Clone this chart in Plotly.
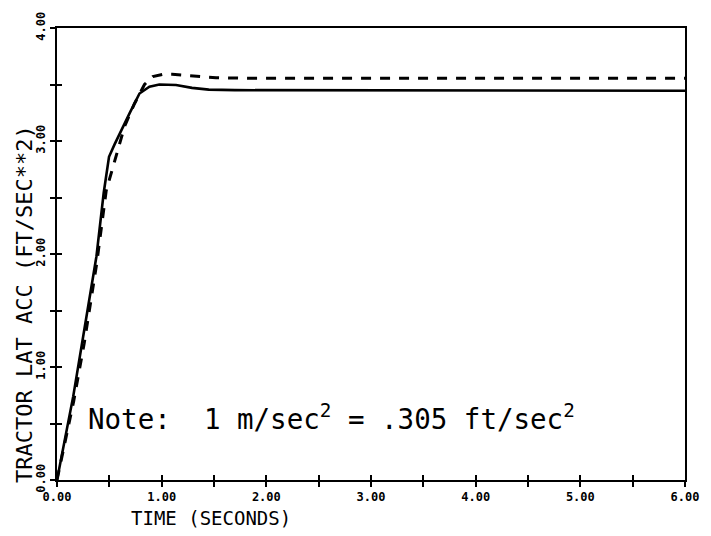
import plotly.graph_objects as go

# ---- data ----
time_solid = [0, 0.155, 0.25, 0.377, 0.446, 0.478, 0.497, 0.55, 0.614, 0.693, 0.788,
              0.883, 0.978, 1.07, 1.137, 1.29, 1.45, 1.7, 2.0, 3.0, 4.0, 5.0, 6.0]
acc_solid = [0, 0.74, 1.27, 1.98, 2.54, 2.74, 2.86, 2.97, 3.10, 3.245, 3.42,
             3.48, 3.50, 3.50, 3.495, 3.47, 3.455, 3.45, 3.45, 3.445, 3.445, 3.445, 3.445]

time_dash = [0, 0.16, 0.26, 0.38, 0.47, 0.55, 0.646, 0.74, 0.836, 0.915, 1.01,
             1.10, 1.29, 1.52, 1.83, 2.5, 3.0, 4.0, 5.0, 6.0]
acc_dash = [0, 0.70, 1.21, 1.92, 2.56, 2.83, 3.13, 3.33, 3.50, 3.57, 3.59,
            3.59, 3.575, 3.56, 3.555, 3.555, 3.555, 3.555, 3.555, 3.555]

x_tick_vals = [0, 1, 2, 3, 4, 5, 6]
x_tick_text = ["0.00", "1.00", "2.00", "3.00", "4.00", "5.00", "6.00"]
y_tick_vals = [0, 1, 2, 3, 4]
y_tick_text = ["0.00", "1.00", "2.00", "3.00", "4.00"]
minor_step = 0.5

x_title = "TIME (SECONDS)"
y_title = "TRACTOR LAT ACC (FT/SEC**2)"
note_text = "Note:  1 m/sec<sup>2</sup> = .305 ft/sec<sup>2</sup>"

MONO = "DejaVu Sans Mono"

fig = go.Figure()
fig.add_trace(go.Scatter(x=time_solid, y=acc_solid, mode="lines",
                         line=dict(color="black", width=2.6), showlegend=False))
fig.add_trace(go.Scatter(x=time_dash, y=acc_dash, mode="lines",
                         line=dict(color="black", width=3, dash="10px,9px"), showlegend=False))
# invisible trace to activate the inside-tick axes
fig.add_trace(go.Scatter(x=[0, 6], y=[0, 4], mode="lines", xaxis="x2", yaxis="y2",
                         line=dict(color="rgba(0,0,0,0)"), hoverinfo="skip", showlegend=False))

tick_common = dict(ticklen=5, tickwidth=2, tickcolor="black")
minor_out = dict(dtick=minor_step, ticks="outside", ticklen=5, tickwidth=2, tickcolor="black",
                 showgrid=False)
minor_in = dict(dtick=minor_step, ticks="inside", ticklen=5, tickwidth=2, tickcolor="black",
                showgrid=False)

fig.update_layout(
    width=711, height=536,
    margin=dict(l=57, r=23, t=27, b=56),
    plot_bgcolor="white", paper_bgcolor="white",
    xaxis=dict(range=[0, 6], tickvals=x_tick_vals, ticktext=x_tick_text,
               ticks="outside", **tick_common, minor=minor_out,
               showline=True, linecolor="black", linewidth=2, mirror=True,
               showgrid=False, zeroline=False,
               tickfont=dict(family=MONO, size=12, color="black", weight="bold")),
    yaxis=dict(range=[0, 4], tickvals=y_tick_vals, ticktext=y_tick_text,
               ticks="outside", **tick_common, minor=minor_out, tickangle=-90,
               showline=True, linecolor="black", linewidth=2, mirror=True,
               showgrid=False, zeroline=False,
               tickfont=dict(family=MONO, size=12, color="black", weight="bold")),
    xaxis2=dict(range=[0, 6], overlaying="x", tickvals=x_tick_vals, showticklabels=False,
                ticks="inside", **tick_common, minor=minor_in,
                showgrid=False, zeroline=False, showline=False),
    yaxis2=dict(range=[0, 4], overlaying="y", tickvals=y_tick_vals, showticklabels=False,
                ticks="inside", **tick_common, minor=minor_in,
                showgrid=False, zeroline=False, showline=False),
    annotations=[
        dict(text=x_title, xref="paper", yref="paper", x=0.2456, y=-0.084,
             xanchor="center", yanchor="middle", showarrow=False,
             font=dict(family=MONO, size=19, color="black")),
        dict(text=y_title, xref="paper", yref="paper", x=-0.0507, y=0.39,
             xanchor="center", yanchor="middle", textangle=-90, showarrow=False,
             font=dict(family=MONO, size=22, color="black")),
        dict(text=note_text, xref="x", yref="y", x=0.28, y=0.56,
             xanchor="left", yanchor="middle", showarrow=False,
             font=dict(family=MONO, size=27.5, color="black")),
    ],
)

fig.write_html("out.html")
